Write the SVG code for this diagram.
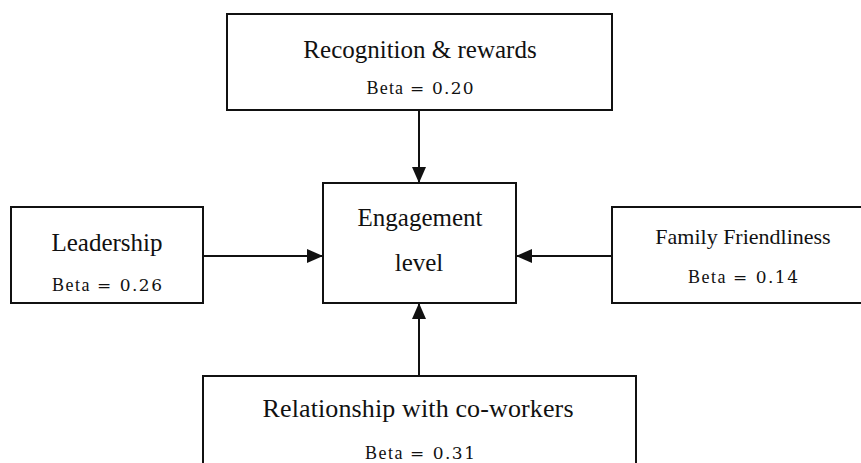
<svg xmlns="http://www.w3.org/2000/svg" width="861" height="463" viewBox="0 0 861 463">
  <defs>
    <style>
      .box { fill: #ffffff; stroke: #111111; stroke-width: 2; }
      .title { font-family: "Liberation Serif", "Times New Roman", serif; fill: #111111; text-anchor: middle; }
      .beta { font-family: "Liberation Serif", "Times New Roman", serif; font-size: 18px; fill: #111111; text-anchor: middle; }
      .num { font-family: "DejaVu Serif", serif; font-size: 17px; }
      .conn { stroke: #111111; stroke-width: 2; fill: none; marker-end: url(#arrow); }
    </style>
    <marker id="arrow" markerUnits="userSpaceOnUse" markerWidth="16" markerHeight="14" refX="16" refY="7" orient="auto">
      <path d="M0,0 L16,7 L0,14 Z" fill="#111111"/>
    </marker>
  </defs>
  <rect width="861" height="463" fill="#ffffff"/>

  <g id="connectors">
    <line class="conn" x1="419" y1="110" x2="419" y2="183"/>
    <line class="conn" x1="203" y1="256" x2="323" y2="256"/>
    <line class="conn" x1="612" y1="256" x2="516" y2="256"/>
    <line class="conn" x1="419" y1="376" x2="419" y2="303"/>
  </g>

  <g id="recognition">
    <rect class="box" x="227" y="14" width="385" height="96"/>
    <text class="title" x="420" y="58" font-size="25">Recognition &amp; rewards</text>
    <text class="beta" x="420" y="94" textLength="107" lengthAdjust="spacing">Beta <tspan class="num">= 0.20</tspan></text>
  </g>

  <g id="leadership">
    <rect class="box" x="11" y="207" width="192" height="96"/>
    <text class="title" x="107" y="251" font-size="25">Leadership</text>
    <text class="beta" x="107" y="291" textLength="110" lengthAdjust="spacing">Beta <tspan class="num">= 0.26</tspan></text>
  </g>

  <g id="engagement">
    <rect class="box" x="323" y="183" width="193" height="120"/>
    <text class="title" x="420" y="226" font-size="25">Engagement</text>
    <text class="title" x="419" y="271" font-size="25">level</text>
  </g>

  <g id="family">
    <rect class="box" x="612" y="207" width="263" height="96"/>
    <text class="title" x="743" y="244" font-size="22">Family Friendliness</text>
    <text class="beta" x="743" y="283" textLength="110" lengthAdjust="spacing">Beta <tspan class="num">= 0.14</tspan></text>
  </g>

  <g id="coworkers">
    <rect class="box" x="203" y="376" width="433" height="100"/>
    <text class="title" x="418" y="417" font-size="26" textLength="311" lengthAdjust="spacing">Relationship with co-workers</text>
    <text class="beta" x="420" y="459" textLength="110" lengthAdjust="spacing">Beta <tspan class="num">= 0.31</tspan></text>
  </g>
</svg>
